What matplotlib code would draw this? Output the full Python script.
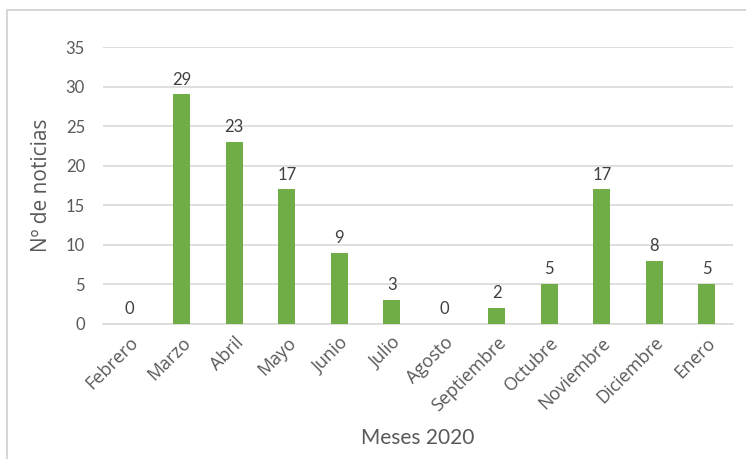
import matplotlib
matplotlib.use("Agg")
import matplotlib.pyplot as plt
from matplotlib.patches import Rectangle

months = ["Febrero", "Marzo", "Abril", "Mayo", "Junio", "Julio", "Agosto",
          "Septiembre", "Octubre", "Noviembre", "Diciembre", "Enero"]
news_counts = [0, 29, 23, 17, 9, 3, 0, 2, 5, 17, 8, 5]
y_ticks = [0, 5, 10, 15, 20, 25, 30, 35]

plt.rcParams["font.family"] = ["Lato", "DejaVu Sans"]
text_color = "#595959"
bar_color = "#70AD47"
grid_color = "#D9D9D9"

fig = plt.figure(figsize=(7.46, 4.59), dpi=100)
W, H = 746, 459
ax = fig.add_axes([103 / W, 1 - 324 / H, 630 / W, (324 - 47) / H])

x = list(range(len(months)))
ax.bar(x, news_counts, width=0.32, color=bar_color, zorder=3)
for xi, v in zip(x, news_counts):
    ax.annotate(str(v), (xi, v), xytext=(0, 5), textcoords="offset points",
                ha="center", va="bottom", fontsize=12, color="#404040")

ax.set_xlim(-0.5, len(months) - 0.5)
ax.set_ylim(0, 35)
ax.set_yticks(y_ticks)
ax.set_xticks(x)
ax.set_xticklabels(months, rotation=45, ha="right", rotation_mode="anchor",
                   fontsize=13, color=text_color,
                   family=["Open Sans", "DejaVu Sans"])
ax.tick_params(axis="y", labelsize=12, labelcolor=text_color, length=0, pad=13)
ax.tick_params(axis="x", length=0, pad=7)
ax.yaxis.grid(True, color=grid_color, linewidth=1.2, zorder=0)
for s in ["top", "right", "left"]:
    ax.spines[s].set_visible(False)
ax.spines["bottom"].set_color(grid_color)
ax.spines["bottom"].set_linewidth(1.2)

ax.set_xlabel("Meses 2020", fontsize=15, color=text_color, labelpad=9)
ax.set_ylabel("Nº de noticias", fontsize=15, color=text_color, labelpad=10,
              family=["Open Sans", "DejaVu Sans"])

# Chart-area frame
fig.patches.append(Rectangle((7 / W, -0.01), 1.0, 1 - 10 / H + 0.01,
                             transform=fig.transFigure, fill=False,
                             edgecolor="#D0D0D0", linewidth=1.2))

fig.savefig("out.png", dpi=100, facecolor="white")
